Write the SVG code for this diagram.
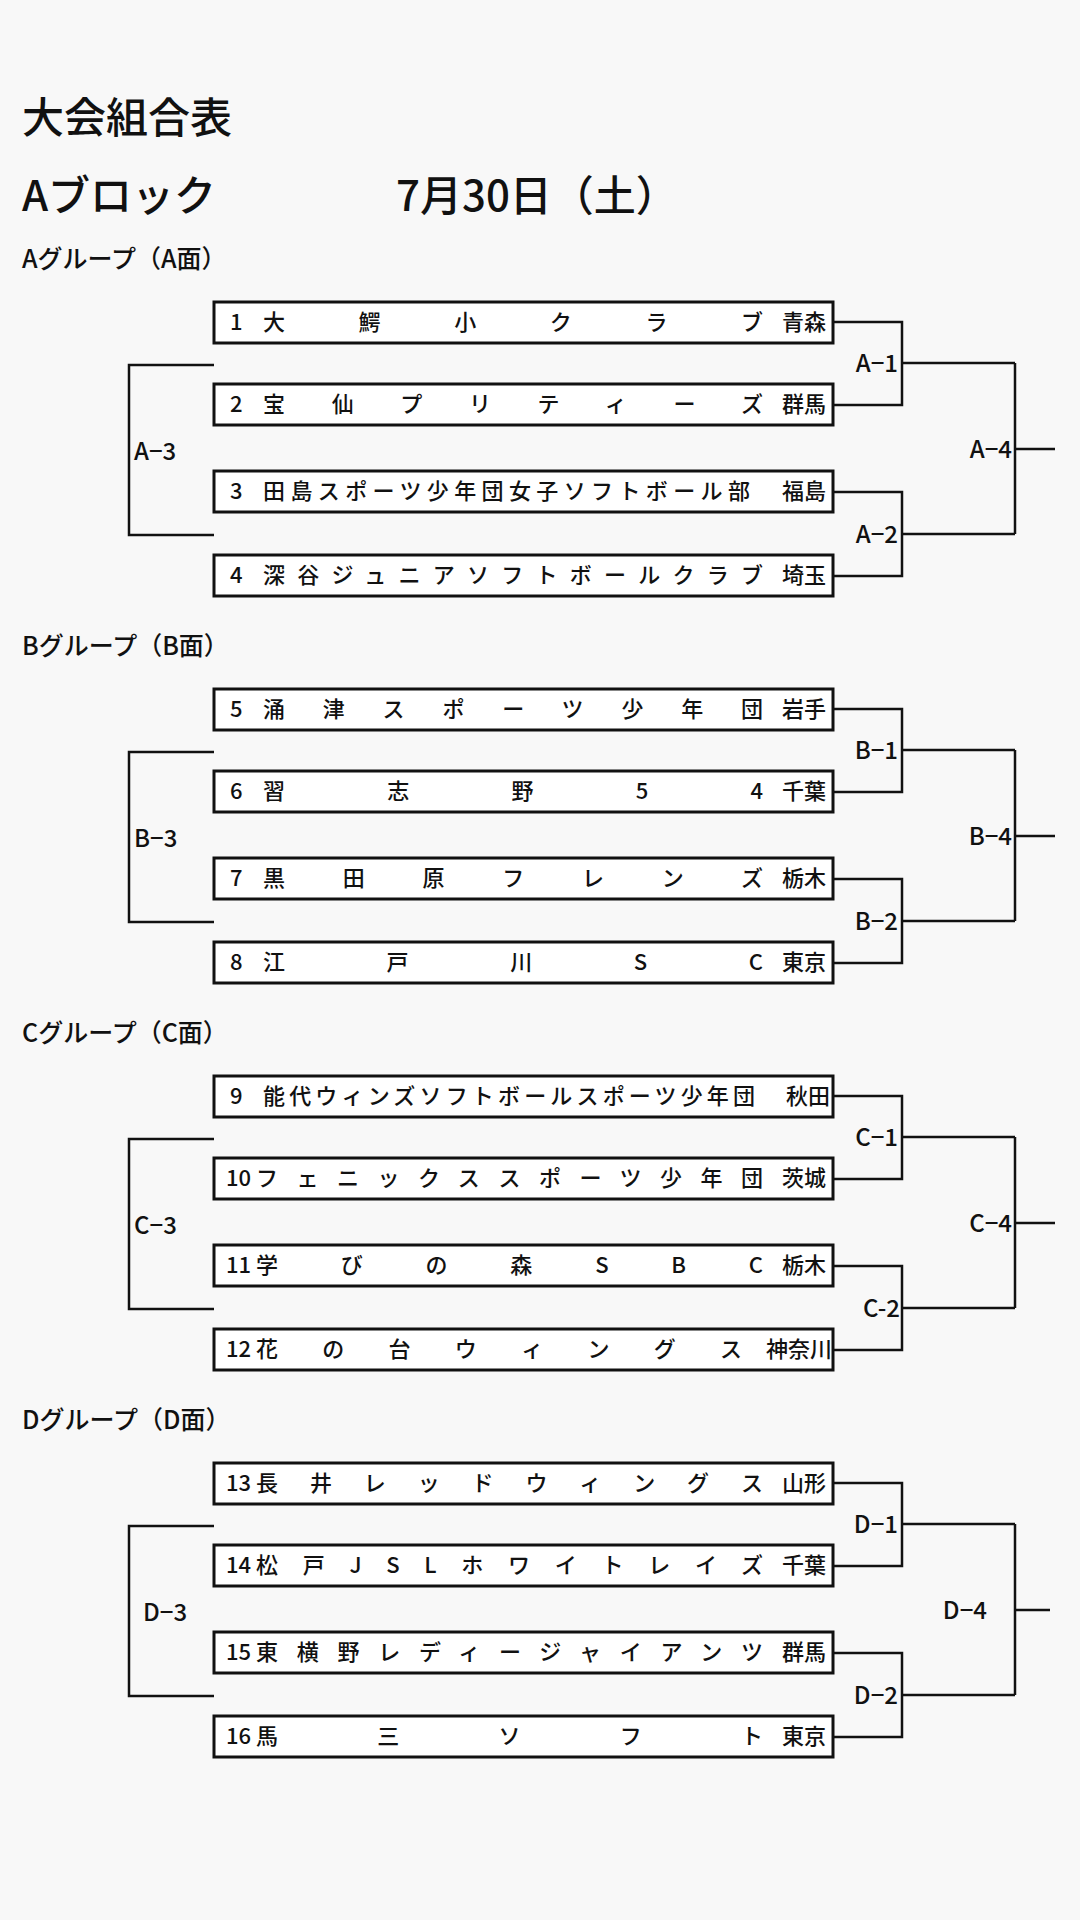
<svg xmlns="http://www.w3.org/2000/svg" width="1080" height="1920" viewBox="0 0 1080 1920">
<style>
text{font-family:"Noto Sans CJK JP","Liberation Sans",sans-serif;fill:#111}
.t{font-size:22px;font-weight:500}
.h{font-size:42px;font-weight:500}
.g{font-size:25px;font-weight:500}
.l{font-size:24px;font-weight:500}
.box{fill:#fff;stroke:#111;stroke-width:3}
.ln{fill:none;stroke:#111;stroke-width:2.5}
</style>
<rect width="1080" height="1920" fill="#f8f8f8"/>
<text class="h" x="22" y="133">大会組合表</text>
<text class="h" x="22" y="211">Aブロック</text>
<text class="h" x="396" y="211">7月30日（土）</text>
<g id="groupA">
<text class="g" x="22" y="268">Aグループ（A面）</text>
<g id="n1"><rect class="box" x="214" y="302" width="619" height="41"/><text class="t" x="230" y="330">1</text><text class="t" x="263" y="330" textLength="500" lengthAdjust="spacing">大鰐小クラブ</text><text class="t" x="826" y="330" text-anchor="end">青森</text></g>
<g id="n2"><rect class="box" x="214" y="384" width="619" height="41"/><text class="t" x="230" y="412">2</text><text class="t" x="263" y="412" textLength="500" lengthAdjust="spacing">宝仙プリティーズ</text><text class="t" x="826" y="412" text-anchor="end">群馬</text></g>
<g id="n3"><rect class="box" x="214" y="471" width="619" height="41"/><text class="t" x="230" y="499">3</text><text class="t" x="263" y="499" textLength="487" lengthAdjust="spacing">田島スポーツ少年団女子ソフトボール部</text><text class="t" x="826" y="499" text-anchor="end">福島</text></g>
<g id="n4"><rect class="box" x="214" y="555" width="619" height="41"/><text class="t" x="230" y="583">4</text><text class="t" x="263" y="583" textLength="500" lengthAdjust="spacing">深谷ジュニアソフトボールクラブ</text><text class="t" x="826" y="583" text-anchor="end">埼玉</text></g>
</g>
<g id="groupB" transform="translate(0,387)">
<text class="g" x="22" y="268">Bグループ（B面）</text>
<g id="n5"><rect class="box" x="214" y="302" width="619" height="41"/><text class="t" x="230" y="330">5</text><text class="t" x="263" y="330" textLength="500" lengthAdjust="spacing">涌津スポーツ少年団</text><text class="t" x="826" y="330" text-anchor="end">岩手</text></g>
<g id="n6"><rect class="box" x="214" y="384" width="619" height="41"/><text class="t" x="230" y="412">6</text><text class="t" x="263" y="412" textLength="500" lengthAdjust="spacing">習志野54</text><text class="t" x="826" y="412" text-anchor="end">千葉</text></g>
<g id="n7"><rect class="box" x="214" y="471" width="619" height="41"/><text class="t" x="230" y="499">7</text><text class="t" x="263" y="499" textLength="500" lengthAdjust="spacing">黒田原フレンズ</text><text class="t" x="826" y="499" text-anchor="end">栃木</text></g>
<g id="n8"><rect class="box" x="214" y="555" width="619" height="41"/><text class="t" x="230" y="583">8</text><text class="t" x="263" y="583" textLength="500" lengthAdjust="spacing">江戸川SC</text><text class="t" x="826" y="583" text-anchor="end">東京</text></g>
</g>
<g id="groupC" transform="translate(0,774)">
<text class="g" x="22" y="268">Cグループ（C面）</text>
<g id="n9"><rect class="box" x="214" y="302" width="619" height="41"/><text class="t" x="230" y="330">9</text><text class="t" x="263" y="330" textLength="492" lengthAdjust="spacing">能代ウィンズソフトボールスポーツ少年団</text><text class="t" x="830" y="330" text-anchor="end">秋田</text></g>
<g id="n10"><rect class="box" x="214" y="384" width="619" height="41"/><text class="t" x="226" y="412">10</text><text class="t" x="256" y="412" textLength="507" lengthAdjust="spacing">フェニックススポーツ少年団</text><text class="t" x="826" y="412" text-anchor="end">茨城</text></g>
<g id="n11"><rect class="box" x="214" y="471" width="619" height="41"/><text class="t" x="226" y="499">11</text><text class="t" x="256" y="499" textLength="507" lengthAdjust="spacing">学びの森SBC</text><text class="t" x="826" y="499" text-anchor="end">栃木</text></g>
<g id="n12"><rect class="box" x="214" y="555" width="619" height="41"/><text class="t" x="226" y="583">12</text><text class="t" x="256" y="583" textLength="486" lengthAdjust="spacing">花の台ウィングス</text><text class="t" x="832" y="583" text-anchor="end">神奈川</text></g>
</g>
<g id="groupD" transform="translate(0,1161)">
<text class="g" x="22" y="268">Dグループ（D面）</text>
<g id="n13"><rect class="box" x="214" y="302" width="619" height="41"/><text class="t" x="226" y="330">13</text><text class="t" x="256" y="330" textLength="507" lengthAdjust="spacing">長井レッドウィングス</text><text class="t" x="826" y="330" text-anchor="end">山形</text></g>
<g id="n14"><rect class="box" x="214" y="384" width="619" height="41"/><text class="t" x="226" y="412">14</text><text class="t" x="256" y="412" textLength="507" lengthAdjust="spacing">松戸JSLホワイトレイズ</text><text class="t" x="826" y="412" text-anchor="end">千葉</text></g>
<g id="n15"><rect class="box" x="214" y="471" width="619" height="41"/><text class="t" x="226" y="499">15</text><text class="t" x="256" y="499" textLength="507" lengthAdjust="spacing">東横野レディージャイアンツ</text><text class="t" x="826" y="499" text-anchor="end">群馬</text></g>
<g id="n16"><rect class="box" x="214" y="555" width="619" height="41"/><text class="t" x="226" y="583">16</text><text class="t" x="256" y="583" textLength="507" lengthAdjust="spacing">馬三ソフト</text><text class="t" x="826" y="583" text-anchor="end">東京</text></g>
</g>
<g id="connectors">
<g id="cA">
<path class="ln" d="M833 322H902V405H833M902 363H1015M833 492H902V576H833M902 534H1015M1015 363V534M1015 449H1055M214 365H129V535H214"/>
<text class="l" x="898" y="372" text-anchor="end">A−1</text><text class="l" x="898" y="543" text-anchor="end">A−2</text><text class="l" x="134" y="460">A−3</text><text class="l" x="1012" y="458" text-anchor="end">A−4</text>
</g>
<g id="cB" transform="translate(0,387)">
<path class="ln" d="M833 322H902V405H833M902 363H1015M833 492H902V576H833M902 534H1015M1015 363V534M1015 449H1055M214 365H129V535H214"/>
<text class="l" x="898" y="372" text-anchor="end">B−1</text><text class="l" x="898" y="543" text-anchor="end">B−2</text><text class="l" x="134" y="460">B−3</text><text class="l" x="1012" y="458" text-anchor="end">B−4</text>
</g>
<g id="cC" transform="translate(0,774)">
<path class="ln" d="M833 322H902V405H833M902 363H1015M833 492H902V576H833M902 534H1015M1015 363V534M1015 449H1055M214 365H129V535H214"/>
<text class="l" x="898" y="372" text-anchor="end">C−1</text><text class="l" x="900" y="543" text-anchor="end">C-2</text><text class="l" x="134" y="460">C−3</text><text class="l" x="1012" y="458" text-anchor="end">C−4</text>
</g>
<g id="cD" transform="translate(0,1161)">
<path class="ln" d="M833 322H902V405H833M902 363H1015M833 492H902V576H833M902 534H1015M1015 363V534M1015 449H1050M214 365H129V535H214"/>
<text class="l" x="898" y="372" text-anchor="end">D−1</text><text class="l" x="898" y="543" text-anchor="end">D−2</text><text class="l" x="143" y="460">D−3</text><text class="l" x="987" y="458" text-anchor="end">D−4</text>
</g>
</g>
</svg>
